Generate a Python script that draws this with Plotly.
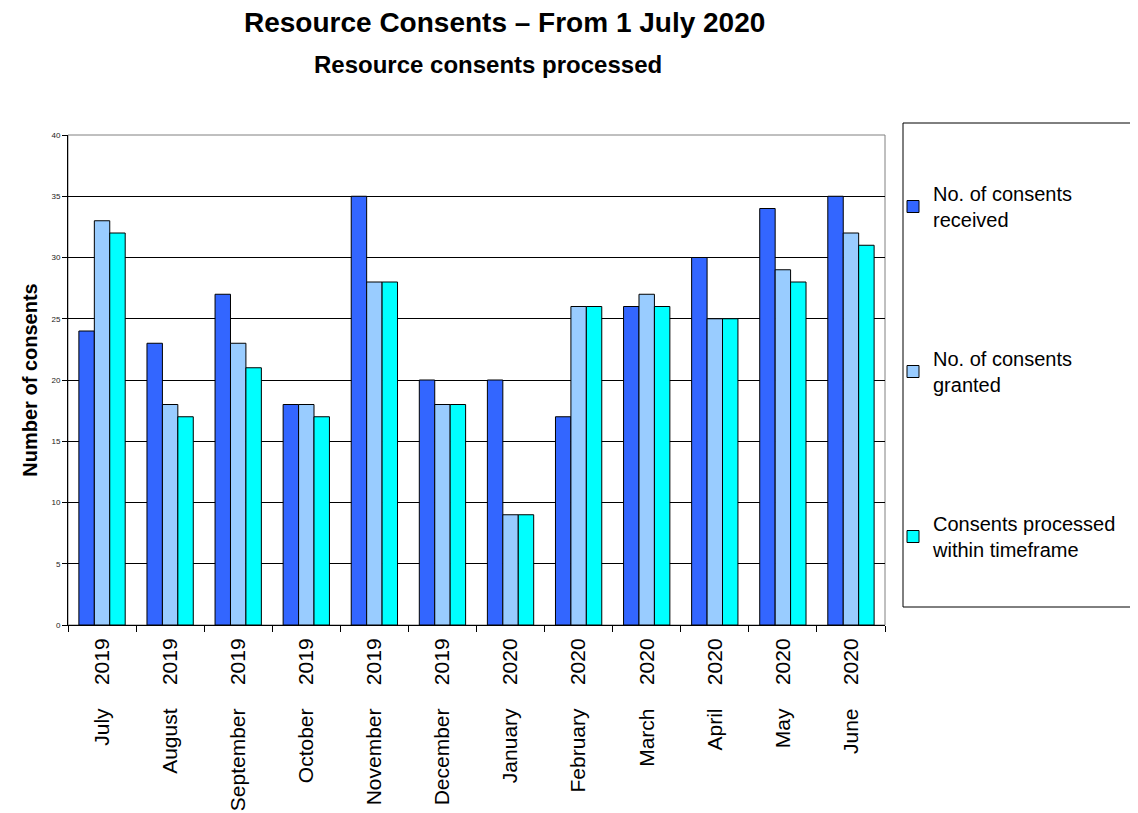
import plotly.graph_objects as go

months = ["July", "August", "September", "October", "November", "December",
          "January", "February", "March", "April", "May", "June"]
years = ["2019", "2019", "2019", "2019", "2019", "2019",
         "2020", "2020", "2020", "2020", "2020", "2020"]
received = [24, 23, 27, 18, 35, 20, 20, 17, 26, 30, 34, 35]
granted = [33, 18, 23, 18, 28, 18, 9, 26, 27, 25, 29, 32]
within = [32, 17, 21, 17, 28, 18, 9, 26, 26, 25, 28, 31]
series_names = ["No. of consents<br>received", "No. of consents<br>granted",
                "Consents processed<br>within timeframe"]
colors = ["#3366FF", "#99CCFF", "#00FFFF"]
y_ticks = [0, 5, 10, 15, 20, 25, 30, 35, 40]

cats = [f"{m} {y}" for m, y in zip(months, years)]
tick_text = [f"{m}" + "\u00a0" * 4 + f"{y}" for m, y in zip(months, years)]

FONT = "Liberation Sans, Arial, sans-serif"
OFF = 8  # page body margin offset
W, H = 1138 - OFF, 813 - OFF
# reference screen coordinates of plot area
L, R, T, B = 68, 885, 135, 625

fig = go.Figure()
for i, (name, vals, col) in enumerate(zip(series_names, [received, granted, within], colors)):
    fig.add_trace(go.Bar(
        x=cats, y=vals, name=name, marker=dict(color=col, line=dict(color="black", width=1)),
        legendgroup=f"g{i}",
    ))

pw = R - L
ph = B - T

def px_x(p):
    return (p - L) / pw

def px_y(p):
    return (B - p) / ph

fig.update_layout(
    width=W, height=H,
    margin=dict(l=L - OFF, r=W - (R - OFF), t=T - OFF, b=H - (B - OFF), pad=0, autoexpand=False),
    paper_bgcolor="white", plot_bgcolor="white",
    barmode="group", bargap=0.32, bargroupgap=0,
    font=dict(family=FONT, color="black"),
    showlegend=True,
    legend=dict(
        x=px_x(893), y=px_y(174), xanchor="left", yanchor="top",
        font=dict(size=20, family=FONT, color="black"),
        tracegroupgap=110, bgcolor="rgba(0,0,0,0)", borderwidth=0,
        itemclick=False, itemdoubleclick=False,
    ),
    xaxis=dict(
        type="category", categoryorder="array", categoryarray=cats,
        tickvals=cats, ticktext=tick_text, tickangle=-90,
        tickfont=dict(size=21, family=FONT, color="black"),
        ticks="outside", ticklen=6, tickcolor="black", tickson="boundaries",
        ticklabelstandoff=4,
        showline=True, linecolor="black", linewidth=1,
        showgrid=False, range=[-0.5, 11.5], automargin=False,
    ),
    yaxis=dict(
        range=[0, 40], tickvals=y_ticks,
        tickfont=dict(size=8, family=FONT, color="#222222"),
        ticks="outside", ticklen=5, tickcolor="black",
        showline=True, linecolor="black", linewidth=1,
        showgrid=True, gridcolor="black", gridwidth=1, zeroline=False,
        automargin=False,
        title=dict(text="<b>Number of consents</b>", font=dict(size=20, family=FONT, color="black"), standoff=8),
    ),
    annotations=[
        dict(text="<b>Resource Consents – From 1 July 2020</b>", xref="paper", yref="paper",
             x=px_x(505), y=px_y(23), xanchor="center", yanchor="middle", showarrow=False,
             font=dict(size=28, family=FONT, color="black")),
        dict(text="<b>Resource consents processed</b>", xref="paper", yref="paper",
             x=px_x(488), y=px_y(64), xanchor="center", yanchor="middle", showarrow=False,
             font=dict(size=24, family=FONT, color="black")),
    ],
    shapes=[
        dict(type="rect", xref="paper", yref="paper", x0=0, x1=1, y0=0, y1=1,
             line=dict(color="#808080", width=1), layer="below"),
        dict(type="rect", xref="paper", yref="paper", x0=px_x(903), x1=px_x(1145),
             y0=px_y(607), y1=px_y(123), line=dict(color="black", width=1), fillcolor="rgba(0,0,0,0)"),
    ],
)

fig.write_html("out.html")
